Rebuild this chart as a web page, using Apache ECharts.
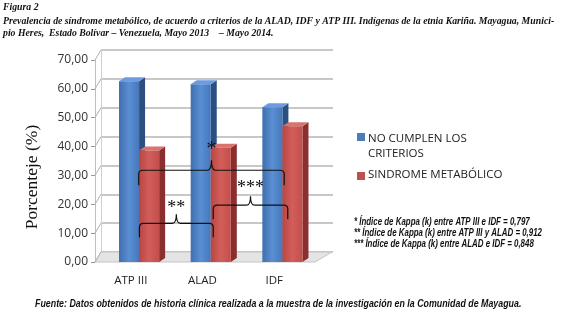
<!DOCTYPE html>
<html>
<head>
<meta charset="utf-8">
<script src="https://cdn.jsdelivr.net/npm/echarts@6/dist/echarts.min.js"></script>
<style>
  html, body { margin: 0; padding: 0; background: #fff; }
  #chart { width: 566px; height: 319px; }
</style>
</head>
<body>
<div id="chart"></div>
<script>
// datos
var categorias = ['ATP III', 'ALAD', 'IDF']
var noCumplen = [62.6, 61.6, 53.6]
var sindrome = [38.6, 39.6, 47.0]
var yTicks = [0, 10, 20, 30, 40, 50, 60, 70]
// llaves de Kappa: inicio/fin en posicion de categoria, altura (valor) y etiqueta
var llaveInicio = [0.11, 0.12, 1.15]
var llaveFin = [2.14, 1.15, 2.19]
var llaveY = [31.8, 13.4, 19.7]
var llaveTxt = ['*', '**', '***']
var notas = [
  '* Índice de Kappa (k) entre ATP III e IDF = 0,797',
  '** Índice de Kappa (k) entre ATP III y ALAD = 0,912',
  '*** Índice de Kappa (k) entre ALAD e IDF = 0,848',
]

var DX = 6, DY = -4          // profundidad de las barras
var BAR_W = 0.28             // ancho de barra (fraccion de banda)
var SHIFT = 0.115            // desplazamiento del par de barras
var WALL_DX = 6, WALL_DY = -10

var chart = echarts.init(document.getElementById('chart'))

function fmt(v) {
  return v.toFixed(2).replace('.', ',')
}

function barra3d(front, side, top, lado) {
  return function(params, api) {
    var cat = api.value(0)
    var p = api.coord([cat, api.value(1)])
    var b = api.coord([cat, 0])
    var band = api.size([1, 0])[0]
    var w = band * BAR_W
    var x0 = p[0] + band * SHIFT + lado * w
    return {
      type: 'group',
      children: [
        {
          type: 'polygon',
          shape: { points: [[x0 + w, p[1]], [x0 + w + DX, p[1] + DY], [x0 + w + DX, b[1] + DY], [x0 + w, b[1]]] },
          style: { fill: side },
        },
        {
          type: 'polygon',
          shape: { points: [[x0, p[1]], [x0 + DX, p[1] + DY], [x0 + w + DX, p[1] + DY], [x0 + w, p[1]]] },
          style: { fill: top },
        },
        {
          type: 'rect',
          shape: { x: x0, y: p[1], width: w, height: b[1] - p[1] },
          style: { fill: front },
        },
      ],
    }
  }
}

var option = {
  animation: false,
  backgroundColor: '#fff',
  grid: [
    { left: 95, top: 60, width: 215, height: 202 },
    { left: 95 + WALL_DX, top: 60 + WALL_DY, width: 232, height: 202 },
  ],
  xAxis: [
    {
      type: 'category',
      gridIndex: 0,
      data: categorias,
      axisLine: { show: false },
      axisTick: { show: false },
      axisLabel: { color: '#222', fontFamily: 'Open Sans', fontSize: 11.5, margin: 13 },
    },
    { type: 'category', gridIndex: 1, data: categorias, show: false },
  ],
  yAxis: [
    {
      type: 'value',
      gridIndex: 0,
      min: 0,
      max: 70,
      interval: 10,
      axisLine: { show: true, lineStyle: { color: '#bfbfbf' } },
      axisTick: { show: true, length: 4, lineStyle: { color: '#999' } },
      axisLabel: {
        color: '#333',
        fontFamily: 'Open Sans',
        fontSize: 12,
        margin: 7,
        formatter: fmt,
      },
      splitLine: { show: false },
    },
    {
      type: 'value',
      gridIndex: 1,
      min: 0,
      max: 70,
      interval: 10,
      axisLine: { show: true, lineStyle: { color: '#d0d0d0' } },
      axisTick: { show: false },
      axisLabel: { show: false },
      splitLine: { show: true, lineStyle: { color: '#c8c8c8', width: 2 } },
    },
  ],
  series: [
    {
      // piso y lineas laterales
      type: 'custom',
      xAxisIndex: 0,
      yAxisIndex: 0,
      silent: true,
      data: yTicks.map(function(v) { return [0, v] }),
      renderItem: function(params, api) {
        var cs = params.coordSys
        var y = api.coord([0, api.value(1)])[1]
        var kids = [{
          type: 'line',
          shape: { x1: cs.x, y1: y, x2: cs.x + WALL_DX, y2: y + WALL_DY },
          style: { stroke: '#b0b0b0', lineWidth: 1 },
        }]
        if (params.dataIndex === 0) {
          kids.unshift({
            type: 'polygon',
            shape: { points: [[cs.x, y], [cs.x + cs.width + 5, y], [cs.x + cs.width + 5 + 17, y + WALL_DY], [cs.x + WALL_DX, y + WALL_DY]] },
            style: { fill: '#e4e4e4', stroke: '#c4c4c4', lineWidth: 1 },
          })
        }
        return { type: 'group', children: kids }
      },
    },
    {
      name: 'NO CUMPLEN LOS CRITERIOS',
      type: 'custom',
      xAxisIndex: 0,
      yAxisIndex: 0,
      itemStyle: { color: '#4a7ebb' },
      data: noCumplen.map(function(v, i) { return [i, v] }),
      renderItem: barra3d(
        new echarts.graphic.LinearGradient(0, 0, 1, 0, [
          { offset: 0, color: '#3f6fae' },
          { offset: 0.5, color: '#5a8fd4' },
          { offset: 1, color: '#4677bb' },
        ]),
        '#2b4f80', '#6d9be0', -1),
    },
    {
      name: 'SINDROME METABÓLICO',
      type: 'custom',
      xAxisIndex: 0,
      yAxisIndex: 0,
      itemStyle: { color: '#c0504d' },
      data: sindrome.map(function(v, i) { return [i, v] }),
      renderItem: barra3d(
        new echarts.graphic.LinearGradient(0, 0, 1, 0, [
          { offset: 0, color: '#b84643' },
          { offset: 0.5, color: '#d25e5a' },
          { offset: 1, color: '#c24f4b' },
        ]),
        '#8a2f2d', '#d9736f', 0),
    },
    {
      // llaves de Kappa
      type: 'custom',
      xAxisIndex: 0,
      yAxisIndex: 0,
      silent: true,
      data: llaveY.map(function(v, i) { return [llaveInicio[i], llaveFin[i], v, i] }),
      renderItem: function(params, api) {
        var band = api.size([1, 0])[0]
        var x0 = api.coord([0, 0])[0]
        var xl = x0 + api.value(0) * band
        var xr = x0 + api.value(1) * band
        var y = api.coord([0, api.value(2)])[1]
        var xm = (xl + xr) / 2
        var r = 4, drop = 15, peak = 10
        if (params.dataIndex > 0) { drop = 14; peak = 9 }
        var txtOff = [0, 3, 1][params.dataIndex]
        var txtSize = params.dataIndex === 0 ? 20 : 18
        var d = 'M' + xl + ' ' + (y + drop) +
          ' L' + xl + ' ' + (y + r) +
          ' Q' + xl + ' ' + y + ' ' + (xl + r) + ' ' + y +
          ' L' + (xm - r) + ' ' + y +
          ' Q' + xm + ' ' + y + ' ' + xm + ' ' + (y - peak) +
          ' Q' + xm + ' ' + y + ' ' + (xm + r) + ' ' + y +
          ' L' + (xr - r) + ' ' + y +
          ' Q' + xr + ' ' + y + ' ' + xr + ' ' + (y + r) +
          ' L' + xr + ' ' + (y + drop)
        return {
          type: 'group',
          children: [
            { type: 'path', shape: { pathData: d }, style: { fill: null, stroke: '#111', lineWidth: 1.2 } },
            {
              type: 'text',
              style: {
                x: xm, y: y - peak + txtOff,
                text: llaveTxt[api.value(3)],
                fill: '#111',
                font: txtSize + 'px "Liberation Serif"',
                textAlign: 'center',
                textVerticalAlign: 'bottom',
              },
            },
          ],
        }
      },
    },
  ],
  graphic: [
    { type: 'text', x: 3, y: 2, scaleX: 0.93, style: { text: 'Figura 2', font: 'italic bold 10.5px "Liberation Serif"', fill: '#111' } },
    { type: 'text', x: 3, y: 16, scaleX: 0.93, style: { text: 'Prevalencia de síndrome metabólico, de acuerdo a criterios de la ALAD, IDF y ATP III. Indígenas de la etnia Kariña. Mayagua, Munici-', font: 'italic bold 10.5px "Liberation Serif"', fill: '#111' } },
    { type: 'text', x: 3, y: 28, scaleX: 0.93, style: { text: 'pio Heres,  Estado Bolívar – Venezuela, Mayo 2013    – Mayo 2014.', font: 'italic bold 10.5px "Liberation Serif"', fill: '#111' } },
    { type: 'text', x: 32, y: 177, rotation: Math.PI / 2, style: { text: 'Porcenteje (%)', font: '17.5px "Liberation Serif"', fill: '#111', textAlign: 'center', textVerticalAlign: 'middle' } },
    { type: 'rect', shape: { x: 357, y: 133, width: 8, height: 8 }, style: { fill: '#4a7ebb' } },
    { type: 'text', x: 368, y: 131, style: { text: 'NO CUMPLEN LOS\nCRITERIOS', font: '11.5px "Open Sans"', lineHeight: 15, fill: '#222' } },
    { type: 'rect', shape: { x: 357, y: 172, width: 8, height: 8 }, style: { fill: '#c0504d' } },
    { type: 'text', x: 368, y: 169, style: { text: 'SINDROME METABÓLICO', font: '11.5px "Open Sans"', fill: '#222' } },
    { type: 'text', x: 354, y: 217, scaleX: 0.79, style: { text: notas.join('\n'), font: 'italic bold 10px "Liberation Sans"', lineHeight: 10.8, fill: '#111' } },
    { type: 'text', x: 35, y: 299, scaleX: 0.885, style: { text: 'Fuente: Datos obtenidos de historia clínica realizada a la muestra de la investigación en la Comunidad de Mayagua.', font: 'italic bold 10px "Liberation Sans"', fill: '#111' } },
  ],
}
chart.setOption(option)
</script>
</body>
</html>
